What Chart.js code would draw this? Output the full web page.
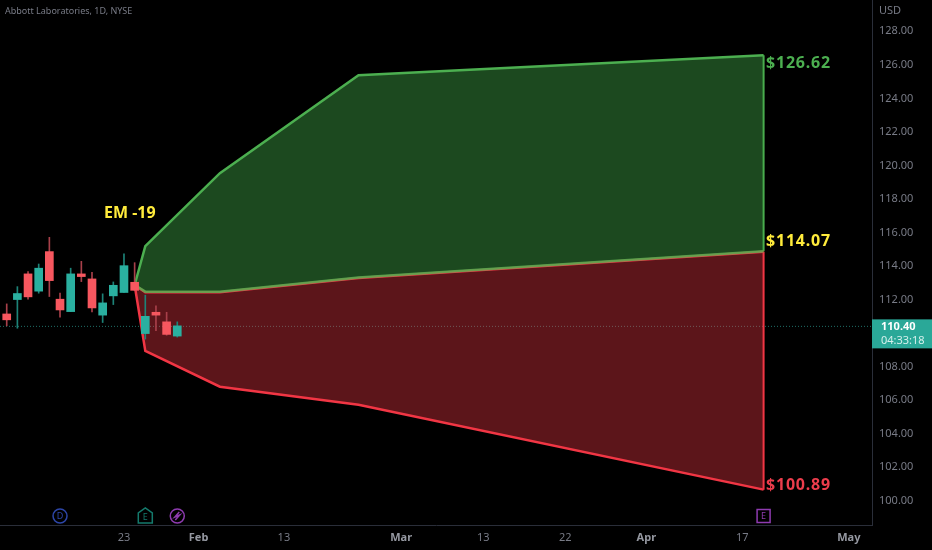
<!DOCTYPE html>
<html lang="en">
<head>
    <meta charset="UTF-8">
    <title>Abbott Laboratories, 1D, NYSE</title>
    <script src="https://cdn.jsdelivr.net/npm/chart.js"></script>
    <style>
        html, body { margin: 0; background: #000; }
        canvas { display: block; }
    </style>
</head>
<body>
    <canvas id="emChart" width="932" height="550"></canvas>
    <script>
        // candles: one entry per trading day, x is the bar number
        const candleX = [0, 1, 2, 3, 4, 5, 6, 7, 8, 9, 10, 11, 12, 13, 14, 15, 16];
        const opens = [111.14, 112.00, 113.53, 112.50, 114.86, 112.02, 111.28, 113.53, 113.23, 111.07, 112.22, 112.42, 113.03, 109.97, 111.24, 110.67, 109.82];
        const closes = [110.79, 112.36, 112.16, 113.87, 113.13, 111.38, 113.53, 113.37, 111.50, 111.80, 112.85, 114.02, 112.55, 111.00, 111.07, 109.92, 110.43];
        const highs = [111.74, 112.77, 113.67, 114.12, 115.71, 112.38, 113.87, 114.28, 113.63, 112.34, 113.05, 114.72, 114.20, 112.26, 111.62, 111.24, 110.67];
        const lows = [110.43, 110.29, 112.02, 112.38, 112.18, 110.95, 111.28, 113.07, 111.26, 110.63, 111.70, 112.42, 112.53, 109.64, 110.15, 109.87, 109.76];

        // expected move cone: green area on top, red area below, they almost touch
        const coneX = [12, 13, 20, 33, 71];
        const coneUpper = [112.87, 115.19, 119.54, 125.38, 126.57];
        const greenBottom = [112.87, 112.47, 112.46, 113.31, 114.88];
        const redTop = [112.87, 112.44, 112.43, 113.28, 114.85];
        const coneLower = [112.87, 108.94, 106.80, 105.72, 100.66];

        // axes
        const xTicks = [11, 18, 26, 37, 44.7, 52.4, 60, 69, 79];
        const xTickLabels = ['23', 'Feb', '13', 'Mar', '13', '22', 'Apr', '17', 'May'];
        const majorLabels = ['Feb', 'Mar', 'Apr', 'May'];
        const yTicks = [100, 102, 104, 106, 108, 110, 112, 114, 116, 118, 120, 122, 124, 126, 128];
        const lastPrice = 110.40;

        const RED = '#f7575f';
        const TEAL = '#2ab0a0';
        const GREEN_LINE = '#4caf50';
        const RED_LINE = '#f23645';
        const AXIS_TEXT = '#787b86';
        const FONT = '"Noto Sans", sans-serif';

        const isUp = opens.map((o, i) => closes[i] >= o);
        const bodyColors = isUp.map(up => up ? TEAL : RED);
        const wickColors = isUp.map(up => up ? '#1d8378' : '#a8404a');
        const pts = (xs, ys) => xs.map((x, i) => ({ x: x, y: ys[i] }));
        const bars = (a, b) => candleX.map((x, i) => ({ x: x, y: [a[i], b[i]] }));

        function coneLine(label, ys, color, fill, order) {
            return {
                type: 'line', label: label, data: pts(coneX, ys),
                borderColor: color, borderWidth: 2.5, pointRadius: 0, tension: 0,
                fill: fill, order: order
            };
        }

        // text and event markers on top of the chart
        const overlay = {
            id: 'overlay',
            afterDraw(chart) {
                const c = chart.ctx, x = chart.scales.x, y = chart.scales.y;
                c.save();
                c.textBaseline = 'middle';

                c.font = '9px ' + FONT;
                c.fillStyle = AXIS_TEXT;
                c.fillText('Abbott Laboratories, 1D, NYSE', 5, 11);
                c.font = '11px ' + FONT;
                c.fillText('USD', 879, 11);

                c.font = 'bold 16px ' + FONT;
                c.fillStyle = '#ffeb3b';
                c.fillText('EM -19', 104, 213);
                c.letterSpacing = '0.8px';
                c.fillText('$114.07', 766, 241);
                c.fillStyle = '#4caf50';
                c.fillText('$126.62', 766, 63);
                c.fillStyle = '#ec3d4c';
                c.fillText('$100.89', 766, 485);
                c.letterSpacing = '0px';

                // last price tag
                const py = y.getPixelForValue(lastPrice);
                c.fillStyle = '#2aa898';
                c.fillRect(872, py - 7, 60, 29);
                c.font = 'bold 11px ' + FONT;
                c.fillStyle = '#ffffff';
                c.fillText('110.40', 881, py);
                c.font = '11px ' + FONT;
                c.fillStyle = '#d5f0ec';
                c.fillText('04:33:18', 881, py + 14);

                // event markers
                c.lineWidth = 1.5;
                c.textAlign = 'center';
                c.font = '9px ' + FONT;
                const my = 516;

                let mx = x.getPixelForValue(5);
                c.strokeStyle = c.fillStyle = '#2d46a8';
                c.beginPath(); c.arc(mx, my, 7, 0, Math.PI * 2); c.stroke();
                c.fillText('D', mx, my);

                mx = x.getPixelForValue(13);
                c.strokeStyle = c.fillStyle = '#147a6c';
                c.beginPath();
                c.moveTo(mx - 7, my + 7); c.lineTo(mx - 7, my - 3); c.lineTo(mx, my - 8);
                c.lineTo(mx + 7, my - 3); c.lineTo(mx + 7, my + 7); c.closePath(); c.stroke();
                c.fillText('E', mx, my + 1);

                mx = x.getPixelForValue(16);
                c.strokeStyle = c.fillStyle = '#8e3bb0';
                c.beginPath(); c.arc(mx, my, 7, 0, Math.PI * 2); c.stroke();
                c.beginPath();
                c.moveTo(mx + 2, my - 4); c.lineTo(mx - 2.5, my + 1); c.lineTo(mx + 2.5, my - 1); c.lineTo(mx - 2, my + 4);
                c.stroke();

                mx = x.getPixelForValue(71);
                c.strokeRect(mx - 6.5, my - 6.5, 13, 13);
                c.fillText('E', mx, my);
                c.restore();
            }
        };

        new Chart(document.getElementById('emChart'), {
            data: {
                datasets: [
                    { type: 'bar', label: 'bodies', data: bars(opens, closes), backgroundColor: bodyColors, barThickness: 8, grouped: false, order: 0 },
                    { type: 'bar', label: 'wicks', data: bars(lows, highs), backgroundColor: wickColors, barThickness: 1, grouped: false, order: 1 },
                    coneLine('upper', coneUpper, GREEN_LINE, { target: 3, above: 'rgba(60,160,68,0.46)', below: 'rgba(60,160,68,0.46)' }, 4),
                    coneLine('green bottom', greenBottom, 'rgba(92,170,80,0.85)', false, 3),
                    coneLine('red top', redTop, RED_LINE, { target: 5, above: 'rgba(242,54,69,0.38)', below: 'rgba(242,54,69,0.38)' }, 5),
                    coneLine('lower', coneLower, RED_LINE, false, 6),
                    { type: 'line', label: 'edge up', data: pts([71, 71], [coneUpper[4], greenBottom[4]]), borderColor: GREEN_LINE, borderWidth: 2, pointRadius: 0, order: 7 },
                    { type: 'line', label: 'edge down', data: pts([71, 71], [redTop[4], coneLower[4]]), borderColor: RED_LINE, borderWidth: 2, pointRadius: 0, order: 7 },
                    { type: 'line', label: 'last', data: pts([-0.63, 81.17], [lastPrice, lastPrice]), borderColor: '#1f6f66', borderWidth: 1, borderDash: [1, 2], pointRadius: 0, order: 8 }
                ]
            },
            options: {
                responsive: false,
                animation: false,
                events: [],
                layout: { padding: 0, autoPadding: false },
                plugins: { legend: { display: false }, tooltip: { enabled: false } },
                scales: {
                    x: {
                        type: 'linear',
                        offset: false,
                        min: -0.63,
                        max: 81.17,
                        grid: { display: false, drawTicks: false },
                        border: { color: '#2a2e39' },
                        afterBuildTicks(axis) { axis.ticks = xTicks.map(v => ({ value: v })); },
                        afterFit(axis) { axis.height = 25; axis.paddingLeft = 0; axis.paddingRight = 0; },
                        ticks: {
                            autoSkip: false,
                            maxRotation: 0,
                            padding: 6,
                            callback: (v, i) => xTickLabels[i],
                            color: ctx => majorLabels.includes(xTickLabels[ctx.index]) ? '#9598a1' : AXIS_TEXT,
                            font: ctx => ({ family: FONT, size: 11, weight: majorLabels.includes(xTickLabels[ctx.index]) ? 'bold' : 'normal' })
                        }
                    },
                    y: {
                        position: 'right',
                        min: 98.55,
                        max: 129.87,
                        grid: { display: false, drawTicks: false },
                        border: { color: '#2a2e39' },
                        afterBuildTicks(axis) { axis.ticks = yTicks.map(v => ({ value: v })); },
                        afterFit(axis) { axis.width = 60; axis.paddingTop = 0; axis.paddingBottom = 0; },
                        ticks: {
                            padding: 7,
                            color: AXIS_TEXT,
                            font: { family: FONT, size: 11 },
                            callback: v => v.toFixed(2)
                        }
                    }
                }
            },
            plugins: [overlay]
        });
    </script>
</body>
</html>
